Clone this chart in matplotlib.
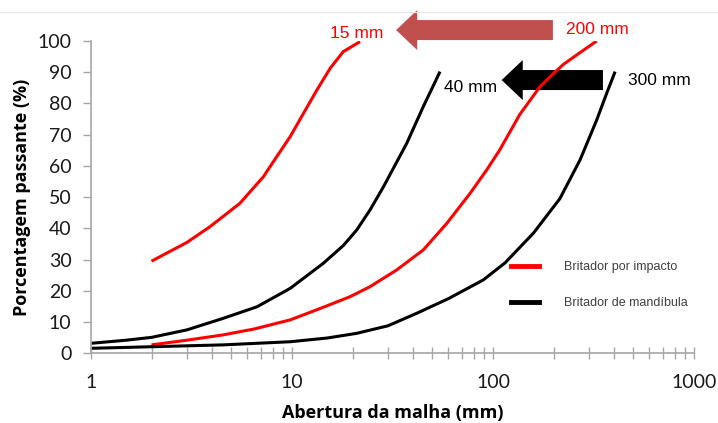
import matplotlib
matplotlib.use('Agg')
from matplotlib import pyplot as plt
from matplotlib.patches import FancyArrow
from matplotlib.lines import Line2D

# curves (abertura mm, % passante)
impacto_15_x = [2, 3, 3.9, 5.5, 7.2, 8.4, 9.8, 11.4, 13.3, 15.5, 18, 21.8]
impacto_15_y = [29.5, 35.5, 40.5, 48, 56.5, 63, 69.4, 76.8, 84.3, 91.3, 96.6, 99.8]

impacto_200_x = [2, 3, 4.55, 6.5, 9.8, 14, 19.4, 24.4, 33.2, 45, 58.9, 76.9, 93, 108, 136, 171,
                 200, 225, 270, 328]
impacto_200_y = [2.7, 4.2, 5.9, 7.8, 10.7, 14.5, 18.1, 21.3, 26.7, 33.1, 41.6, 51.2, 58.7, 65.1,
                 76.5, 85.3, 89.6, 92.6, 96.2, 100]

mandibula_40_x = [1, 1.5, 2, 3, 4.55, 6.7, 9.8, 14.3, 18, 21, 24.5, 28.5, 37.2, 45, 54.5]
mandibula_40_y = [3.2, 4.2, 5.1, 7.5, 11.2, 14.9, 20.8, 28.8, 34.5, 39.5, 46, 53.3, 67.2, 79, 90.2]

mandibula_300_x = [1, 2, 4.55, 9.8, 15, 21, 30, 41.7, 60, 89.5, 115, 159, 215, 271, 328, 368, 405]
mandibula_300_y = [1.6, 2.1, 2.7, 3.7, 4.9, 6.4, 8.8, 12.8, 17.5, 23.5, 29, 38.5, 49.5, 61.9,
                   74.7, 83.3, 90.2]

labels = ['Britador por impacto', 'Britador de mandíbula']

fig = plt.figure(figsize=(7.18, 4.23), dpi=100)
ax = fig.add_axes([91/718, 1 - 353.3/423, 603/718, 312.3/423])

for xs, ys, c in [(impacto_15_x, impacto_15_y, '#ff0000'),
                  (impacto_200_x, impacto_200_y, '#ff0000'),
                  (mandibula_40_x, mandibula_40_y, 'black'),
                  (mandibula_300_x, mandibula_300_y, 'black')]:
    ax.plot(xs, ys, color=c, lw=2.2, solid_capstyle='butt', solid_joinstyle='round')

ax.set_xscale('log')
ax.set_xlim(1, 1000)
ax.set_ylim(0, 100)
ax.set_yticks(range(0, 101, 10))
ax.set_xticks([1, 10, 100, 1000])
ax.set_xticklabels(['1', '10', '100', '1000'])

for s in ['top', 'right']:
    ax.spines[s].set_visible(False)
for s in ['left', 'bottom']:
    ax.spines[s].set_color('#a6a6a6')
    ax.spines[s].set_linewidth(1.2)

ax.tick_params(axis='x', which='both', direction='inout', length=8, width=1, color='#a6a6a6',
               labelsize=14, pad=11, labelcolor='#1a1a1a')
ax.tick_params(axis='x', which='minor', length=8)
ax.tick_params(axis='y', direction='out', length=6, width=1, color='#a6a6a6',
               labelsize=14, pad=8, labelcolor='#1a1a1a')
for lab in ax.get_xticklabels() + ax.get_yticklabels():
    lab.set_family('Lato')

ax.set_xlabel('Abertura da malha (mm)', fontsize=13, fontweight='bold', family='Open Sans', labelpad=9)
ax.set_ylabel('Porcentagem passante (%)', fontsize=13, fontweight='bold', family='Open Sans', labelpad=5)

# labels for the curves
ax.text(21, 102.5, '15 mm', color='#ff0000', fontsize=12.5, family='Liberation Sans',
        ha='center', va='center', clip_on=False)
ax.text(329, 103.8, '200 mm', color='#ff0000', fontsize=12.5, family='Liberation Sans',
        ha='center', va='center', clip_on=False)
ax.text(77, 85, '40 mm', color='black', fontsize=12.5, family='Liberation Sans',
        ha='center', va='center', clip_on=False)
ax.text(670, 87.5, '300 mm', color='black', fontsize=12.5, family='Liberation Sans',
        ha='center', va='center', clip_on=False)

# arrows (axes fraction)
ax.add_patch(FancyArrow(0.766, 1.035, 0.506 - 0.766, 0, width=0.064, head_width=0.128,
                        head_length=0.035, length_includes_head=True, color='#c0504d',
                        transform=ax.transAxes, clip_on=False, lw=0))
ax.add_patch(FancyArrow(0.849, 0.875, 0.681 - 0.849, 0, width=0.064, head_width=0.128,
                        head_length=0.035, length_includes_head=True, color='black',
                        transform=ax.transAxes, clip_on=False, lw=0))

handles = [Line2D([], [], color='#ff0000', lw=3.5), Line2D([], [], color='black', lw=3.5)]
leg = ax.legend(handles, labels, loc='upper left', bbox_to_anchor=(500/718, 1 - 250/423),
                bbox_transform=fig.transFigure, frameon=False,
                prop={'family': 'Liberation Sans', 'size': 9}, handlelength=2.2,
                handletextpad=2.0, labelspacing=1.9)
for t in leg.get_texts():
    t.set_color('#404040')

# faint line at top of slide
fig.add_artist(Line2D([0, 1], [1 - 12/423, 1 - 12/423], color='#e6e6e6', lw=0.8,
                      transform=fig.transFigure))

plt.savefig('out.png', dpi=100)
